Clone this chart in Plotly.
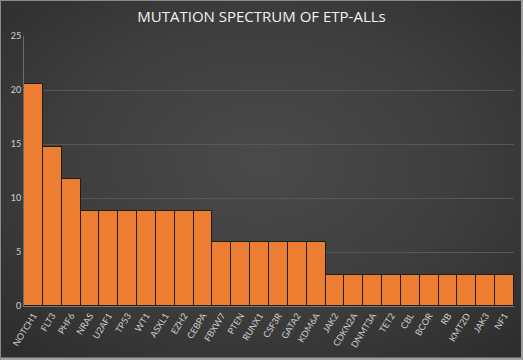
import plotly.graph_objects as go

genes = ["NOTCH1", "FLT3", "PHF6", "NRAS", "U2AF1", "TP53", "WT1", "ASXL1", "EZH2", "CEBPA",
         "FBXW7", "PTEN", "RUNX1", "CSF3R", "GATA2", "KDM6A",
         "JAK2", "CDKN2A", "DNMT3A", "TET2", "CBL", "BCOR", "RB", "KMT2D", "JAK3", "NF1"]
percent = [20.6, 14.7, 11.8, 8.8, 8.8, 8.8, 8.8, 8.8, 8.8, 8.8,
           5.9, 5.9, 5.9, 5.9, 5.9, 5.9,
           2.9, 2.9, 2.9, 2.9, 2.9, 2.9, 2.9, 2.9, 2.9, 2.9]
y_ticks = [0, 5, 10, 15, 20, 25]

W, H = 523, 360
ml, mr, mt, mb = 24, 9, 36, 54
pw, ph = W - ml - mr, H - mt - mb
px0, px1 = -ml / pw, 1 + mr / pw
py0, py1 = -mb / ph, 1 + mt / ph

fig = go.Figure(go.Bar(
    x=genes, y=percent,
    marker=dict(color="#ED7D31", line=dict(color="#1e1e1e", width=1)),
))

fig.update_layout(
    width=W, height=H,
    margin=dict(l=ml, r=mr, t=mt, b=mb),
    paper_bgcolor="rgba(0,0,0,0)",
    plot_bgcolor="rgba(0,0,0,0)",
    bargap=0,
    showlegend=False,
    title=dict(text="MUTATION SPECTRUM OF ETP-ALLs", x=0.5, xanchor="center",
               y=1 - 17 / H, yanchor="middle",
               font=dict(family="Open Sans, Lato, sans-serif", size=15, color="#f2f2f2")),
    font=dict(family="Lato, Open Sans, sans-serif", color="#d0d0d0"),
    xaxis=dict(tickangle=-58, tickfont=dict(size=9, color="#d0d0d0"),
               showgrid=False, showline=True, linecolor="#7a7a7a", linewidth=1,
               ticks="", fixedrange=True),
    yaxis=dict(range=[0, 25], tickvals=y_ticks, tickfont=dict(size=9, color="#d0d0d0"),
               showgrid=True, gridcolor="#575757", gridwidth=1,
               showline=True, linecolor="#6a6a6a", zeroline=False, ticks="",
               fixedrange=True),
    shapes=[
        dict(type="line", xref="paper", yref="paper", x0=px0, x1=px1, y0=py0, y1=py0,
             line=dict(color="#a0a0a0", width=5), layer="above"),
        dict(type="line", xref="paper", yref="paper", x0=px1, x1=px1, y0=py0, y1=py1,
             line=dict(color="#a0a0a0", width=4), layer="above"),
        dict(type="line", xref="paper", yref="paper", x0=px0, x1=px1, y0=py1, y1=py1,
             line=dict(color="#8a8a8a", width=2), layer="above"),
        dict(type="line", xref="paper", yref="paper", x0=px0, x1=px0, y0=py0, y1=py1,
             line=dict(color="#8a8a8a", width=2), layer="above"),
    ],
)

post = (
    "document.body.style.margin='0';"
    "document.body.style.overflow='hidden';"
    "document.body.style.background='radial-gradient(ellipse 70% 70% at 50% 45%, #4a4a4a 0%, #3e3e3e 55%, #2e2e2e 100%)';"
    "document.body.style.width='523px';document.body.style.height='360px';"
)

fig.write_html("out.html", post_script=post, config={"displayModeBar": False})
